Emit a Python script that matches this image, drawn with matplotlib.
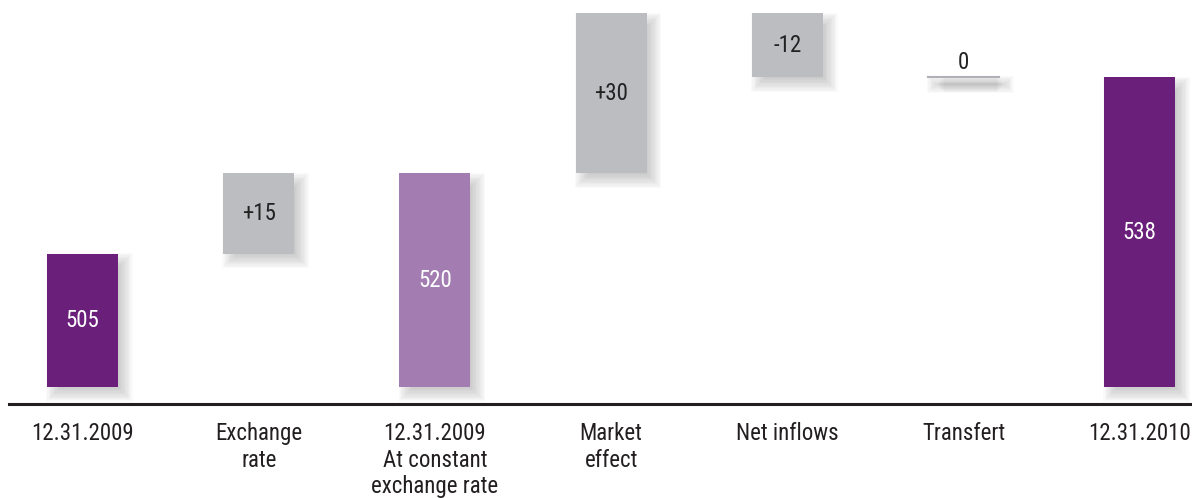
import numpy as np
import matplotlib.pyplot as plt
from matplotlib.patches import Rectangle

plt.rcParams['font.family'] = ['Roboto Condensed', 'DejaVu Sans']

# Données
categories = ['12.31.2009', 'Exchange\nrate', '12.31.2009\nAt constant\nexchange rate',
              'Market\neffect', 'Net inflows', 'Transfert', '12.31.2010']
start = 505
fx_effect = 15
moves = [30, -12, 0]          # market effect, net inflows, transfert
move_labels = ['+30', '-12', '0']
base = 480

dark = '#6a1f7a'
light = '#a37db2'
grey = '#bcbdc1'

fig = plt.figure(figsize=(11.92, 4.98), dpi=100)
ax = fig.add_axes([0, 94 / 498, 1, 404 / 498])
ax.set_xlim(-0.468, 6.297)
ax.set_ylim(476.8, 552.5)
ax.axis('off')

w = 0.403
px_x = 1 / 176.2   # unités par pixel
px_y = 1 / 5.33


def shadow(x, y0, y1):
    # ombre floue décalée vers le bas à droite
    n = 14
    for k in range(n):
        g = (k - n / 2) * 1.3
        ax.add_patch(Rectangle((x - w / 2 + (7 - g) * px_x, y0 - (7 + g) * px_y),
                               w + 2 * g * px_x, (y1 - y0) + 2 * g * px_y,
                               facecolor='#555555', alpha=0.026, lw=0, zorder=1))


def bar(x, y0, y1, color, label, tcolor):
    shadow(x, y0, y1)
    ax.add_patch(Rectangle((x - w / 2, y0), w, y1 - y0, facecolor=color, lw=0, zorder=2))
    ax.text(x, (y0 + y1) / 2, label, ha='center', va='center', color=tcolor,
            fontsize=16.5, zorder=3)


# barres
bar(0, base, start, dark, str(start), 'white')
mid = start + fx_effect
bar(1, start, mid, grey, '+%d' % fx_effect, '#222222')
bar(2, base, mid, light, str(mid), 'white')

levels = mid + np.concatenate([[0], np.cumsum(moves)])
for i, (m, lab) in enumerate(zip(moves, move_labels)):
    x = 3 + i
    lo, hi = sorted([levels[i], levels[i + 1]])
    if m == 0:
        shadow(x, lo - 0.2, lo + 0.2)
        ax.plot([x - w / 2, x + w / 2], [lo, lo], color='#b0b0b6', lw=1.5, zorder=2)
        ax.text(x, lo + 0.6, lab, ha='center', va='bottom', color='#222222', fontsize=16.5)
    else:
        bar(x, lo, hi, grey, lab, '#222222')

end = levels[-1]
bar(6, base, end, dark, str(end), 'white')

# ligne de base
ax.axhline(476.8, xmin=9 / 1192, xmax=1, color='#231f20', lw=2.2, clip_on=False)

for i, c in enumerate(categories):
    fig.text((82.5 + 176.2 * i) / 1192, 1 - 422 / 498, c, ha='center', va='top',
             fontsize=16.5, color='#231f20', linespacing=1.2)

fig.savefig('out.png', dpi=100)
